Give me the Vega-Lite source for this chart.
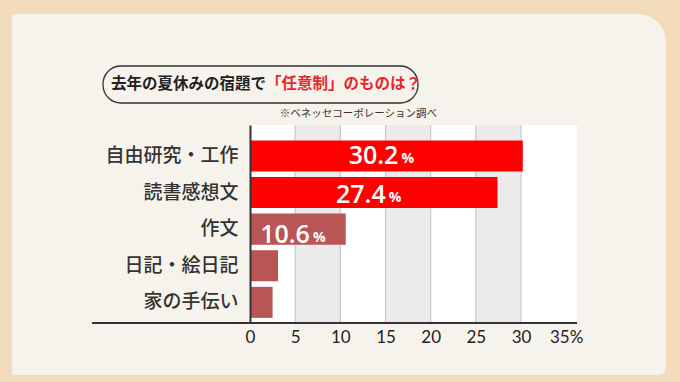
{
  "$schema": "https://vega.github.io/schema/vega-lite/v6.json",
  "width": 327,
  "height": 198,
  "autosize": {"type": "none"},
  "padding": {"left": 250, "top": 125, "right": 103, "bottom": 59},
  "background": "#f2dcbb",
  "config": {"view": {"stroke": null}, "font": "Noto Sans CJK JP"},
  "datasets": {
    "survey": [
      {"category": "自由研究・工作", "value": 30.2},
      {"category": "読書感想文", "value": 27.4},
      {"category": "作文", "value": 10.6},
      {"category": "日記・絵日記", "value": 3.1},
      {"category": "家の手伝い", "value": 2.5}
    ],
    "bands": [
      {"start": 5, "end": 10},
      {"start": 15, "end": 20},
      {"start": 25, "end": 30}
    ],
    "grid": [{"v": 5}, {"v": 10}, {"v": 15}, {"v": 20}, {"v": 25}, {"v": 30}]
  },
  "resolve": {
    "scale": {"x": "independent", "y": "independent"},
    "axis": {"x": "independent", "y": "independent"}
  },
  "layer": [
    {
      "data": {"values": [{}]},
      "layer": [
        {
          "mark": {"type": "rect", "fill": "#f6f3ec", "cornerRadiusTopRight": 28, "cornerRadiusBottomRight": 8, "cornerRadiusTopLeft": 3, "cornerRadiusBottomLeft": 3},
          "encoding": {
            "x": {"datum": -26.35, "type": "quantitative", "scale": {"domain": [0, 36.2], "nice": false, "zero": false}, "axis": null},
            "x2": {"datum": 46.05},
            "y": {"datum": -52, "type": "quantitative", "scale": {"domain": [0, 198], "nice": false, "zero": false}, "axis": null},
            "y2": {"datum": 309}
          }
        },
        {
          "mark": {"type": "rect", "fillOpacity": 0, "stroke": "#333333", "strokeWidth": 1.3, "cornerRadius": 18},
          "encoding": {
            "x": {"datum": -16.27, "type": "quantitative"},
            "x2": {"datum": 18.6},
            "y": {"datum": 220, "type": "quantitative"},
            "y2": {"datum": 257}
          }
        },
        {
          "mark": {"type": "text", "align": "left", "baseline": "middle", "fontSize": 15.5, "fontWeight": "bold", "color": "#222222"},
          "encoding": {
            "x": {"datum": -15.4, "type": "quantitative"},
            "y": {"datum": 239, "type": "quantitative"},
            "text": {"value": "去年の夏休みの宿題で"}
          }
        },
        {
          "mark": {"type": "text", "align": "left", "baseline": "middle", "fontSize": 15.5, "fontWeight": "bold", "color": "#e8262a"},
          "encoding": {
            "x": {"datum": 1.76, "type": "quantitative"},
            "y": {"datum": 239, "type": "quantitative"},
            "text": {"value": "「任意制」のものは？"}
          }
        },
        {
          "mark": {"type": "text", "align": "right", "baseline": "middle", "fontSize": 10.5, "color": "#333333"},
          "encoding": {
            "x": {"datum": 20.7, "type": "quantitative"},
            "y": {"datum": 209, "type": "quantitative"},
            "text": {"value": "※ベネッセコーポレーション調べ"}
          }
        }
      ]
    },
    {
      "layer": [
        {
          "data": {"values": [{}]},
          "mark": {"type": "rect", "fill": "#ffffff"},
          "encoding": {
            "x": {"datum": 0, "type": "quantitative"},
            "x2": {"datum": 36.2}
          }
        },
        {
          "data": {"name": "bands"},
          "mark": {"type": "rect", "fill": "#ebebeb"},
          "encoding": {
            "x": {"field": "start", "type": "quantitative"},
            "x2": {"field": "end"}
          }
        },
        {
          "data": {"name": "grid"},
          "mark": {"type": "rule", "color": "#c8c8c8", "strokeWidth": 1.2},
          "encoding": {
            "x": {"field": "v", "type": "quantitative"}
          }
        },
        {
          "data": {"name": "survey"},
          "mark": {"type": "bar"},
          "encoding": {
            "y": {
              "field": "category", "type": "nominal", "sort": null,
              "scale": {"domain": ["自由研究・工作", "読書感想文", "作文", "日記・絵日記", "家の手伝い"], "paddingInner": 0.153, "paddingOuter": 0.28, "align": 0.75},
              "axis": {"orient": "left", "title": null, "ticks": false, "domain": true, "domainColor": "#333333", "domainWidth": 2, "labelFontSize": 19, "labelColor": "#333333", "labelFontWeight": 500, "labelPadding": 12, "zindex": 1}
            },
            "x": {
              "field": "value", "type": "quantitative",
              "scale": {"domain": [0, 36.2], "nice": false, "zero": false},
              "axis": {"orient": "bottom", "title": null, "ticks": false, "domain": false, "grid": false, "values": [0, 5, 10, 15, 20, 25, 30, 35], "labelExpr": "datum.value == 35 ? '35%' : datum.label", "labelFont": "Lato", "labelFontSize": 17, "labelColor": "#222222", "labelPadding": 6, "labelFlush": false, "zindex": 1}
            },
            "color": {"condition": {"test": "datum.value > 20", "value": "#fe0000"}, "value": "#b85656"}
          }
        }
      ]
    },
    {
      "data": {"name": "survey"},
      "transform": [{"filter": "datum.value > 5"}],
      "encoding": {
        "y": {
          "field": "category", "type": "nominal", "sort": null,
          "scale": {"domain": ["自由研究・工作", "読書感想文", "作文", "日記・絵日記", "家の手伝い"], "paddingInner": 0.153, "paddingOuter": 0.28, "align": 0.75},
          "axis": null
        },
        "x": {"field": "value", "type": "quantitative", "scale": {"domain": [0, 72.4], "nice": false, "zero": false}, "axis": null}
      },
      "layer": [
        {
          "mark": {"type": "text", "align": "right", "baseline": "alphabetic", "dx": 12, "dy": 9, "fontSize": 25, "font": "Open Sans", "fontWeight": 600, "color": "#ffffff"},
          "encoding": {"text": {"field": "value", "type": "quantitative", "format": ".1f"}}
        },
        {
          "mark": {"type": "text", "align": "left", "baseline": "alphabetic", "dx": 15, "dy": 8, "fontSize": 14, "font": "Open Sans", "fontWeight": "bold", "color": "#ffffff"},
          "encoding": {"text": {"value": "%"}}
        }
      ]
    },
    {
      "data": {"values": [{}]},
      "mark": {"type": "rule", "color": "#333333", "strokeWidth": 2},
      "encoding": {
        "x": {"datum": -17.49, "type": "quantitative", "scale": {"domain": [0, 36.2], "nice": false, "zero": false}, "axis": null},
        "x2": {"datum": 36.2},
        "y": {"datum": 0, "type": "quantitative", "scale": {"domain": [0, 198], "nice": false, "zero": false}, "axis": null}
      }
    }
  ]
}
